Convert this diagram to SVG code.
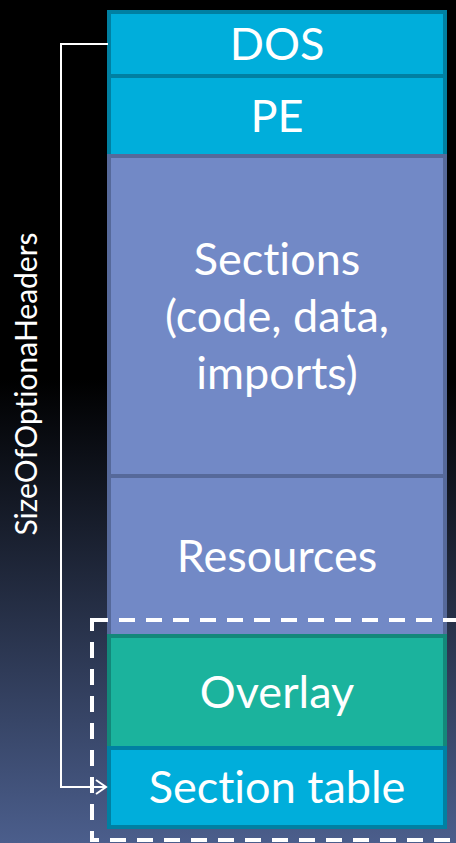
<svg xmlns="http://www.w3.org/2000/svg" width="456" height="843" viewBox="0 0 456 843">
<defs>
<linearGradient id="bg" x1="0" y1="0" x2="0" y2="1">
<stop offset="0" stop-color="#000000"/>
<stop offset="0.45" stop-color="#000000"/>
<stop offset="1" stop-color="#4b5e8c"/>
</linearGradient>
<marker id="arr" markerWidth="14" markerHeight="18" refX="12" refY="9" orient="auto" markerUnits="userSpaceOnUse">
<path d="M2,2 L12,9 L2,16" fill="none" stroke="#ffffff" stroke-width="2"/>
</marker>
<style>
text{font-variant-ligatures:none;font-feature-settings:"liga" 0,"dlig" 0}
.lbl{font-family:"Lato","Liberation Sans",sans-serif;font-size:45px;fill:#ffffff;text-anchor:middle}
.blue{fill:#00aedb;stroke:#0080a2;stroke-width:4}
.purple{fill:#7289c6;stroke:#56699a;stroke-width:4}
.green{fill:#1bb39d;stroke:#13887a;stroke-width:4}
.conn{fill:none;stroke:#ffffff;stroke-width:2}
</style>
</defs>
<rect x="0" y="0" width="456" height="843" fill="url(#bg)"/>
<g id="dos"><rect class="blue" x="109" y="12" width="336" height="64"/><text class="lbl" x="277" y="60">DOS</text></g>
<g id="pe"><rect class="blue" x="109" y="76" width="336" height="80"/><text class="lbl" x="277" y="132">PE</text></g>
<g id="sections"><rect class="purple" x="109" y="156" width="336" height="320"/>
<text class="lbl" x="277" y="275">Sections</text>
<text class="lbl" x="277" y="332">(code, data,</text>
<text class="lbl" x="277" y="389">imports)</text></g>
<g id="resources"><rect class="purple" x="109" y="476" width="336" height="160"/><text class="lbl" x="277" y="572">Resources</text></g>
<g id="overlay"><rect class="green" x="109" y="636" width="336" height="112"/><text class="lbl" x="277" y="708">Overlay</text></g>
<g id="sectiontable"><rect class="blue" x="109" y="748" width="336" height="79"/><text class="lbl" x="277" y="803">Section table</text></g>
<g id="dashed"><rect x="92" y="620" width="420" height="220" fill="none" stroke="#ffffff" stroke-width="4" stroke-dasharray="16 11"/></g>
<g id="connectors">
<path class="conn" d="M108,44 H61 V787 H106" marker-end="url(#arr)"/>
</g>
<g id="sizelabel"><text x="37" y="384" transform="rotate(-90 37 384)" style="font-family:'Lato','Liberation Sans',sans-serif;font-size:30px;fill:#ffffff;text-anchor:middle">SizeOfOptionaHeaders</text></g>
</svg>
